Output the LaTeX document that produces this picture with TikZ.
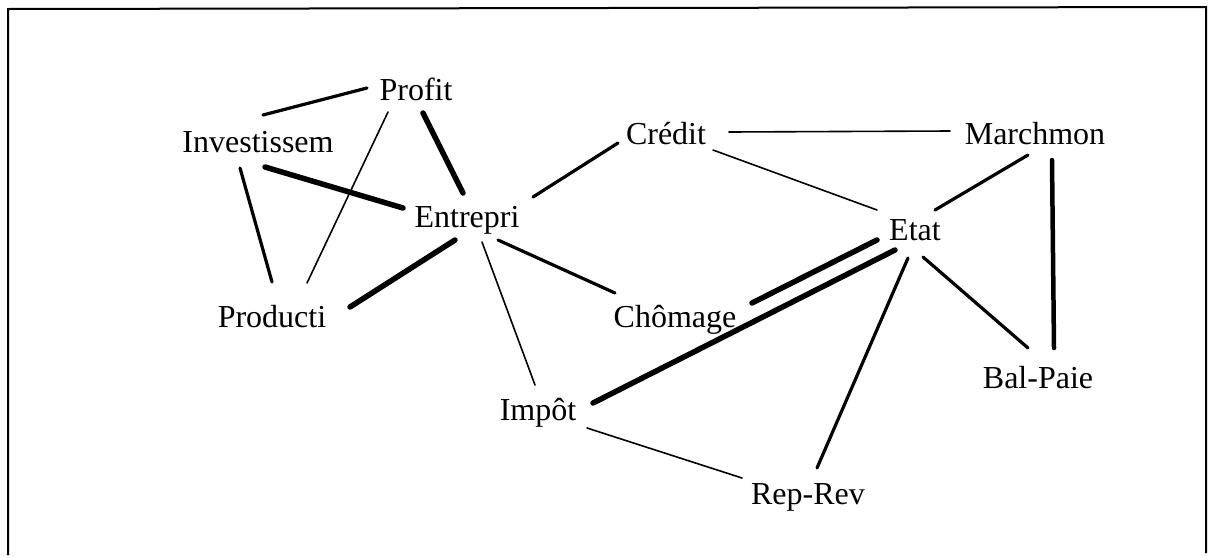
\documentclass[tikz,border=0pt]{standalone}
\usepackage{fontspec}
\setmainfont{Liberation Serif}
\usetikzlibrary{calc}
\begin{document}
\begin{tikzpicture}[x=1pt,y=-1pt,
  lbl/.style={inner sep=10pt, outer sep=0pt, text height=21pt, text depth=0pt,
    font=\fontsize{32}{36}\selectfont},
  thin/.style={line width=1.6pt, line cap=round},
  mid/.style={line width=3.2pt, line cap=round},
  heavy/.style={line width=5.5pt, line cap=round}]
\useasboundingbox (0,0) rectangle (1213,555);
\draw[line width=2pt] (8,555) -- (8,9) -- (1206,7) -- (1206,553);
\node[lbl] (profit) at (416,90) {Profit};
\node[lbl] (invest) at (258,142) {Investissem};
\node[lbl] (entre) at (467,217) {Entrepri};
\node[lbl] (produ) at (272,317) {Producti};
\node[lbl] (credit) at (666,134) {Crédit};
\node[lbl] (chom) at (675,317) {Chômage};
\node[lbl] (march) at (1035,134) {Marchmon};
\node[lbl] (etat) at (915,230) {Etat};
\node[lbl] (balp) at (1038,378) {Bal-Paie};
\node[lbl] (impot) at (538,410) {Impôt};
\node[lbl] (reprev) at (808,494) {Rep-Rev};
\draw[mid] ($(invest)+(5,-27)$) -- ($(profit)+(-49,-2)$);
\draw[thin] ($(profit)+(-28,22)$) -- ($(produ)+(35,-34)$);
\draw[heavy] ($(profit)+(7,23)$) -- ($(entre)+(-4,-24)$);
\draw[heavy] ($(invest)+(7,25)$) -- ($(entre)+(-64,-9)$);
\draw[mid] ($(invest)+(-18,26)$) -- ($(produ)+(0,-35)$);
\draw[heavy] ($(entre)+(-12,23)$) -- ($(produ)+(78,-10)$);
\draw[mid] ($(entre)+(66,-20)$) -- ($(credit)+(-48,9)$);
\draw[mid] ($(entre)+(31,23)$) -- ($(chom)+(-60,-24)$);
\draw[thin] ($(entre)+(15,25)$) -- ($(impot)+(-3,-25)$);
\draw[thin] ($(credit)+(63,-2)$) -- ($(march)+(-85,-3)$);
\draw[thin] ($(credit)+(47,16)$) -- ($(etat)+(-38,-20)$);
\draw[mid] ($(march)+(-7,21)$) -- ($(etat)+(20,-20)$);
\draw[line width=4.5pt, line cap=round] ($(march)+(17,26)$) -- ($(balp)+(16,-30)$);
\draw[heavy] ($(etat)+(-38,10)$) -- ($(chom)+(77,-14)$);
\draw[heavy] ($(etat)+(-20,20)$) -- ($(impot)+(55,-7)$);
\draw[mid] ($(etat)+(-7,28)$) -- ($(reprev)+(9,-26)$);
\draw[mid] ($(etat)+(8,27)$) -- ($(balp)+(-10,-30)$);
\draw[thin] ($(impot)+(49,18)$) -- ($(reprev)+(-66,-16)$);
\end{tikzpicture}
\end{document}
